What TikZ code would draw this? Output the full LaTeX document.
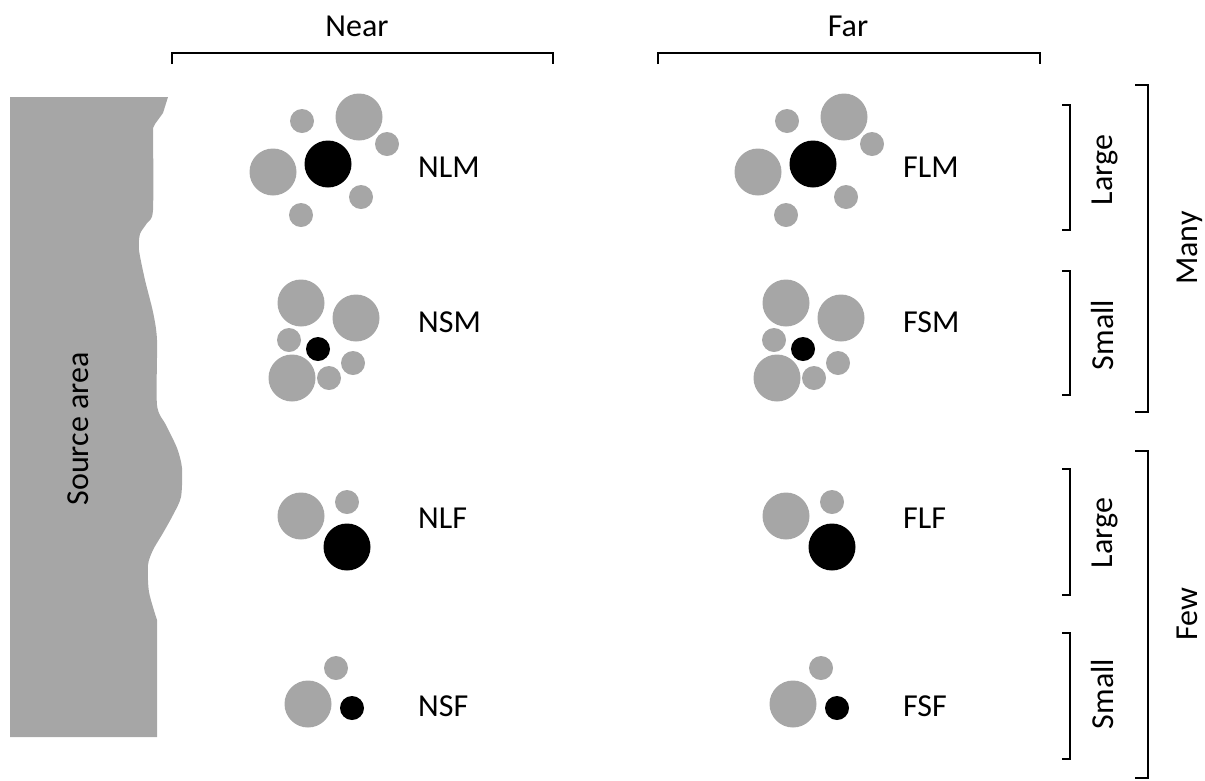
\documentclass[tikz,border=0pt]{standalone}
\usepackage{fontspec}
\setmainfont{Carlito}
\definecolor{dotgray}{RGB}{166,166,166}
\tikzset{
  lbl/.style={font=\fontsize{32}{38}\selectfont, inner sep=0pt},
  brk/.style={draw=black, line width=2pt},
  bigg/.style={circle, fill=dotgray, minimum size=47pt, inner sep=0pt},
  smlg/.style={circle, fill=dotgray, minimum size=24pt, inner sep=0pt},
  bigb/.style={circle, fill=black, minimum size=47pt, inner sep=0pt},
  smlb/.style={circle, fill=black, minimum size=24pt, inner sep=0pt},
}
\begin{document}
\begin{tikzpicture}[x=1pt, y=-1pt]
\useasboundingbox (0,0) rectangle (1205,780);

% source area with its ragged edge
\fill[dotgray] (10,97) -- (168,97) -- (163,113) -- (155,124)
  -- plot[smooth, tension=0.45] coordinates {(153,128) (153,210) (147,223) (140,234)
     (139,250) (145,280) (153,312) (157,340) (157,405) (166,425) (177,448)
     (182,468) (181,497) (173,515) (163,533) (153,550) (148,565) (149,592) (157,620)}
  -- (157,737) -- (10,737) -- cycle;
\node[lbl, rotate=90, anchor=base] (src) at (88,429) {Source area};

% column headers with brackets
\node[lbl, anchor=base] (near) at (357,36) {Near};
\node[lbl, anchor=base] (far) at (848,36) {Far};
\draw[brk] (172,64) -- (172,53) -- (553,53) -- (553,64);
\draw[brk] (658,64) -- (658,53) -- (1040,53) -- (1040,64);

% row brackets
\draw[brk] (1135,85) -- (1148,85) -- (1148,412) -- (1135,412);
\draw[brk] (1135,451) -- (1148,451) -- (1148,778) -- (1135,778);
\draw[brk] (1062,105) -- (1070,105) -- (1070,230) -- (1062,230);
\draw[brk] (1062,271) -- (1070,271) -- (1070,395) -- (1062,395);
\draw[brk] (1062,469) -- (1070,469) -- (1070,595) -- (1062,595);
\draw[brk] (1062,633) -- (1070,633) -- (1070,759) -- (1062,759);
\node[lbl, rotate=90, anchor=base] (many) at (1197,248) {Many};
\node[lbl, rotate=90, anchor=base] (few) at (1197,614) {Few};
\node[lbl, rotate=90, anchor=base] (lg1) at (1112,170) {Large};
\node[lbl, rotate=90, anchor=base] (sm1) at (1113,335) {Small};
\node[lbl, rotate=90, anchor=base] (lg2) at (1112,533) {Large};
\node[lbl, rotate=90, anchor=base] (sm2) at (1113,694) {Small};

% particle clusters, near and far columns
\foreach \p/\dx in {N/0, F/485} {
  \begin{scope}[xshift=\dx pt]
    % large particles, many
    \node[smlg] (\p LM-a) at (302,121) {};
    \node[bigg] (\p LM-b) at (359,117) {};
    \node[smlg] (\p LM-c) at (387,144) {};
    \node[bigg] (\p LM-d) at (273,172) {};
    \node[bigb] (\p LM-e) at (328,164) {};
    \node[smlg] (\p LM-f) at (361,197) {};
    \node[smlg] (\p LM-g) at (301,215) {};
    \node[lbl, anchor=base west] (\p LM) at (418,177) {\p LM};
    % small particles, many
    \node[bigg] (\p SM-a) at (301,303) {};
    \node[bigg] (\p SM-b) at (356,318) {};
    \node[smlg] (\p SM-c) at (289,340) {};
    \node[smlb] (\p SM-d) at (318,349) {};
    \node[bigg] (\p SM-e) at (292,378) {};
    \node[smlg] (\p SM-f) at (329,378) {};
    \node[smlg] (\p SM-g) at (353,363) {};
    \node[lbl, anchor=base west] (\p SM) at (418,332) {\p SM};
    % large particles, few
    \node[bigg] (\p LF-a) at (301,516) {};
    \node[smlg] (\p LF-b) at (347,502) {};
    \node[bigb] (\p LF-c) at (347,547) {};
    \node[lbl, anchor=base west] (\p LF) at (418,528) {\p LF};
    % small particles, few
    \node[smlg] (\p SF-a) at (336,668) {};
    \node[bigg] (\p SF-b) at (308,704) {};
    \node[smlb] (\p SF-c) at (352,708) {};
    \node[lbl, anchor=base west] (\p SF) at (418,716) {\p SF};
  \end{scope}
}
\end{tikzpicture}
\end{document}
